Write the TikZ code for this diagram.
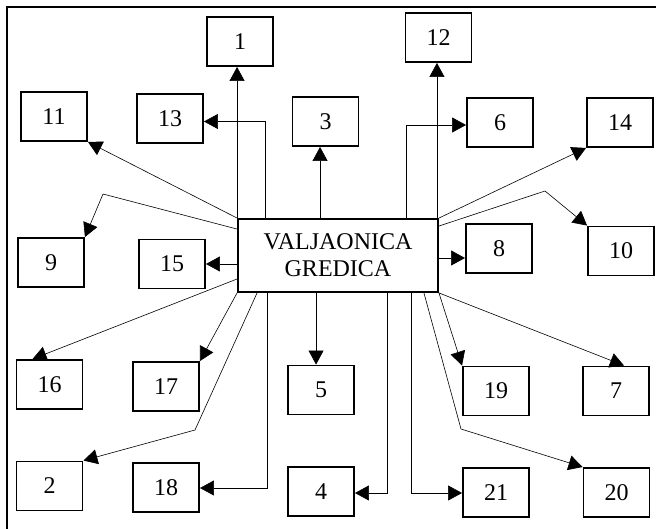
\documentclass[tikz,border=0pt]{standalone}
\usepackage{fontspec}
\setmainfont{Liberation Serif}
\usetikzlibrary{arrows.meta}
\begin{document}
\begin{tikzpicture}[x=1pt,y=-1pt,
  bx/.style={draw,line width=1.9pt,minimum width=66pt,minimum height=49pt,inner sep=0pt,font=\fontsize{24}{27}\selectfont},
  mainbox/.style={draw,line width=1.9pt,minimum width=200pt,minimum height=73pt,inner sep=0pt,align=center,font=\fontsize{24}{27}\selectfont},
  arr/.style={-{Triangle[length=14pt,width=15pt]},line width=0.6pt},
  outerframe/.style={line width=1.9pt}]
\useasboundingbox (0,0) rectangle (656,529);
\draw[outerframe] (7,529) -- (7,7) -- (656,7);

\node[mainbox] (main) at (338,255.5) {VALJAONICA\\GREDICA};

\node[bx] (n1) at (240,41.5) {1};
\node[bx] (n11) at (54,116.5) {11};
\node[bx] (n13) at (170,118.5) {13};
\node[bx] (n3) at (325.5,121.5) {3};
\node[bx] (n12) at (438.5,37.5) {12};
\node[bx] (n6) at (500,122.5) {6};
\node[bx] (n14) at (620,122.5) {14};
\node[bx] (n9) at (51,262.5) {9};
\node[bx] (n15) at (172,264) {15};
\node[bx] (n8) at (499,248.5) {8};
\node[bx] (n10) at (621,251) {10};
\node[bx] (n16) at (49.5,384.5) {16};
\node[bx] (n17) at (166,386.5) {17};
\node[bx] (n5) at (321,390) {5};
\node[bx] (n19) at (496,391) {19};
\node[bx] (n7) at (616,391) {7};
\node[bx] (n2) at (49.5,486) {2};
\node[bx] (n18) at (166,487.5) {18};
\node[bx] (n4) at (321,491.5) {4};
\node[bx] (n21) at (496,492.5) {21};
\node[bx] (n20) at (616.5,492.5) {20};

\coordinate (b9) at (103,194);
\coordinate (b10) at (545,191);
\coordinate (b2) at (195,430);
\coordinate (b20) at (461,429);

% top side
\draw[arr] (main.north west) -- (main.north west |- n1.south);
\draw[arr] ([xshift=28pt]main.north west) |- ([yshift=-3pt]n13.east);
\draw[arr] ([xshift=83pt]main.north west) -- ([xshift=83pt]main.north west |- n3.south);
\draw[arr] (main.north west) -- (n11.south east);
\draw[arr] ([xshift=-2pt]main.north east) -- ([xshift=-2pt]main.north east |- n12.south);
\draw[arr] ([xshift=-33pt]main.north east) |- ([yshift=-2.5pt]n6.west);
\draw[arr] (main.north east) -- (n14.south west);
% left side
\draw[arr] ([yshift=-11pt]main.north west) -- (b9) -- (n9.north east);
\draw[arr] (main.west |- n15.east) -- (n15.east);
\draw[arr] ([yshift=-23.5pt]main.west) -- ([xshift=-17pt]n16.north);
% right side
\draw[arr] ([yshift=-8pt]main.north east) -- (b10) -- (n10.north west);
\draw[arr] ([yshift=-2.5pt]main.east) -- ([yshift=-2.5pt]main.east -| n8.west);
% bottom side
\draw[arr] (main.south west) -- (n17.north east);
\draw[arr] ([xshift=20pt]main.south west) -- (b2) -- (n2.north east);
\draw[arr] ([xshift=30pt]main.south west) |- ([yshift=-0.5pt]n18.east);
\draw[arr] ([xshift=79pt]main.south west) -- ([xshift=79pt]main.south west |- n5.north);
\draw[arr] ([xshift=150pt]main.south west) |- ([yshift=-1.5pt]n4.east);
\draw[arr] ([xshift=174pt]main.south west) |- ([yshift=-0.5pt]n21.west);
\draw[arr] (main.south east) -- (n19.north west);
\draw[arr] ([xshift=-15pt]main.south east) -- (b20) -- (n20.north west);
\draw[arr] (main.south east) -- ([xshift=8pt]n7.north);
\end{tikzpicture}
\end{document}
